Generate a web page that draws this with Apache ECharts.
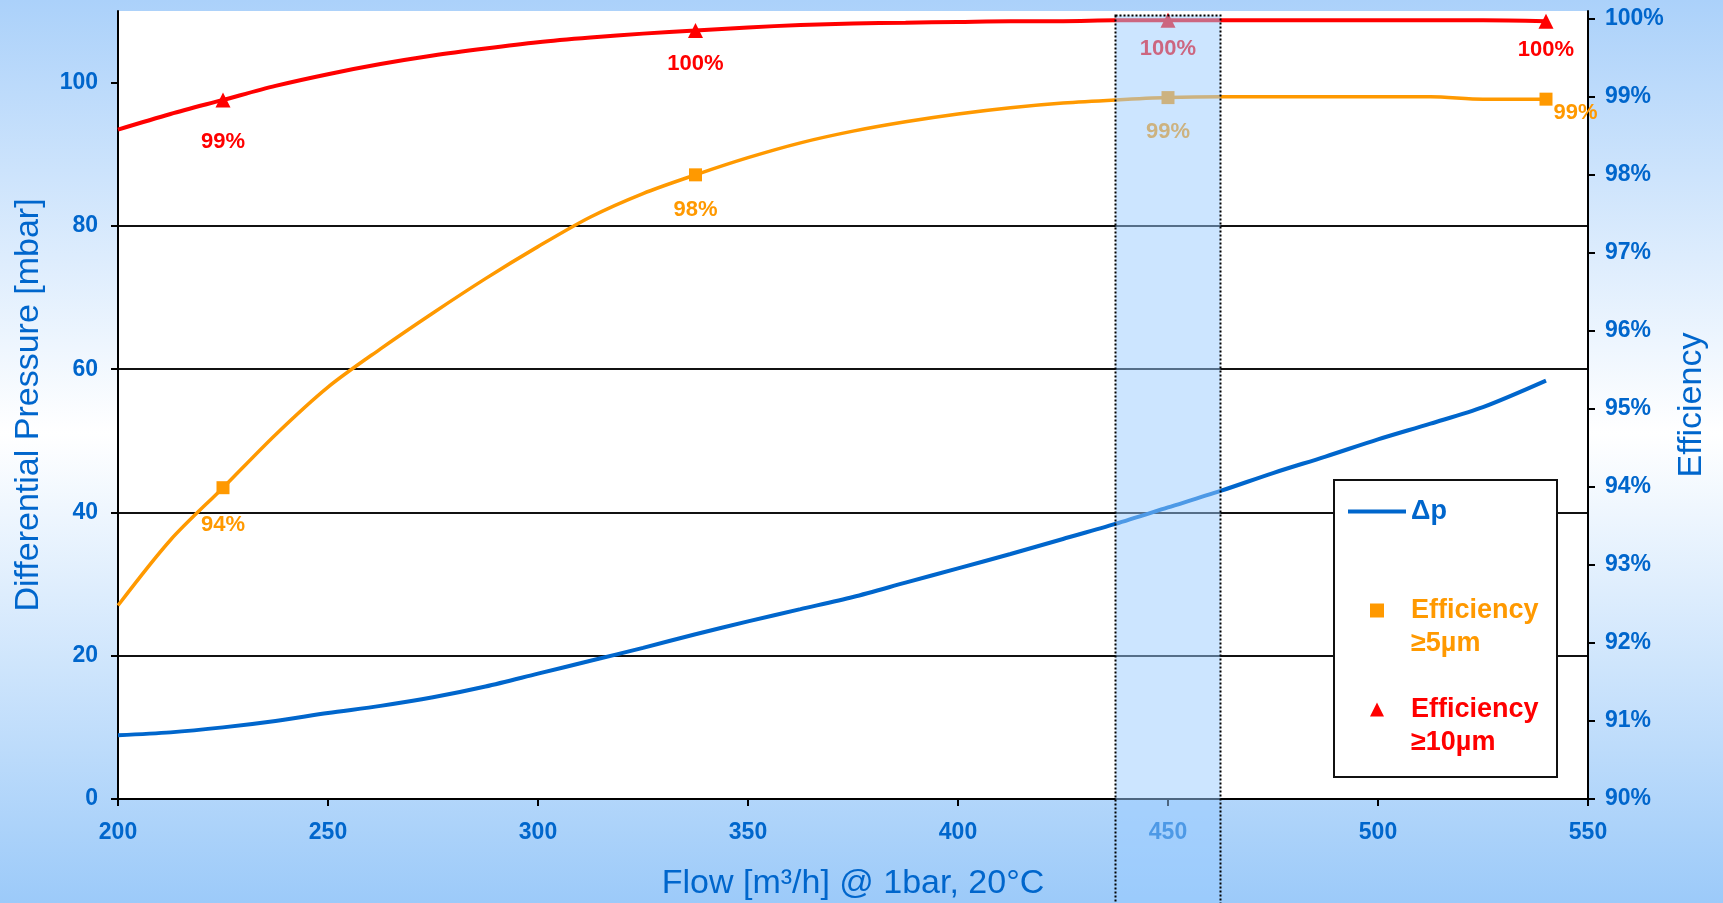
<!DOCTYPE html>
<html><head><meta charset="utf-8">
<script src="https://cdn.jsdelivr.net/npm/echarts@6/dist/echarts.min.js"></script>
<style>html,body{margin:0;padding:0;background:#fff;}#c{width:1723px;height:903px;}</style>
</head><body><div id="c"></div>
<script>
// ---- data ----
const flows = [200, 212.5, 225, 237.5, 250, 262.5, 275, 287.5, 300, 312.5, 325, 337.5, 350, 362.5, 375, 387.5, 400, 412.5, 425, 437.5, 450, 462.5, 475, 487.5, 500, 512.5, 525, 540];
const deltaP = [8.9, 9.3, 10.0, 10.9, 12.0, 13.0, 14.2, 15.7, 17.5, 19.3, 21.1, 23.0, 24.8, 26.5, 28.2, 30.2, 32.2, 34.2, 36.3, 38.4, 40.7, 43.0, 45.5, 47.8, 50.2, 52.4, 54.7, 58.4];
const eff5 = [92.48, 93.32, 93.99, 94.67, 95.28, 95.77, 96.23, 96.67, 97.08, 97.46, 97.76, 98.00, 98.22, 98.41, 98.56, 98.68, 98.78, 98.86, 98.92, 98.96, 98.99, 99.00, 99.00, 99.00, 99.00, 99.00, 98.97, 98.97];
const eff10 = [98.58, 98.78, 98.96, 99.14, 99.29, 99.42, 99.53, 99.62, 99.70, 99.76, 99.81, 99.85, 99.89, 99.92, 99.94, 99.95, 99.96, 99.97, 99.97, 99.98, 99.98, 99.98, 99.98, 99.98, 99.98, 99.98, 99.98, 99.97];
const markerFlows = [225, 337.5, 450, 540];
const flowTicks = [200, 250, 300, 350, 400, 450, 500, 550];
const pressureTicks = [0, 20, 40, 60, 80, 100];
const efficiencyTicks = [90, 91, 92, 93, 94, 95, 96, 97, 98, 99, 100];
const bandFlows = [437.5, 462.5];
const seriesNames = ['Δp', 'Efficiency ≥5µm', 'Efficiency ≥10µm'];
const legendTexts = [' \nΔp\n ', ' \nEfficiency\n≥5µm', ' \nEfficiency\n≥10µm'];

// ---- styles ----
const BLUE = '#0066cc', ORANGE = '#ff9900', RED = '#ff0000';
const NUM_FONT = '"Liberation Sans",Arial,sans-serif';
const TXT_FONT = '"Liberation Sans",Arial,sans-serif';
const labelDist5 = {225: 20, 337.5: 18, 450: 17};
const labelDist10 = {225: 23, 337.5: 15, 450: 10, 540: 10};

function pct(p) { return Math.round(p.value[1]) + '%'; }

function buildSeriesData(values, color, dists, size) {
  return flows.map((f, i) => {
    if (markerFlows.indexOf(f) < 0) return {value: [f, values[i]], symbolSize: 0};
    let label;
    if (dists[f] !== undefined) {
      label = {show: true, position: 'bottom', distance: dists[f], formatter: pct, color: color,
               fontFamily: NUM_FONT, fontWeight: 'bold', fontSize: 22};
    } else {
      label = {show: true, position: 'right', distance: 1, offset: [0, 14], formatter: pct, color: color,
               fontFamily: NUM_FONT, fontWeight: 'bold', fontSize: 22};
    }
    return {value: [f, values[i]], symbolSize: size, label: label};
  });
}

const chart = echarts.init(document.getElementById('c'), null, {renderer: 'canvas'});
const axisLineStyle = {color: '#000', width: 2};

const option = {
  animation: false,
  backgroundColor: {type: 'linear', x: 0, y: 0, x2: 0, y2: 1, colorStops: [
    {offset: 0, color: '#abd1fa'}, {offset: 0.48, color: '#ffffff'}, {offset: 1, color: '#9ccaf9'}]},
  grid: {left: 118, right: 135, top: 11, bottom: 104, show: true, backgroundColor: '#ffffff', borderWidth: 0,
         containLabel: false, outerBoundsMode: 'none'},
  xAxis: {
    type: 'value', min: 200, max: 550, interval: 50,
    name: 'Flow [m³/h] @ 1bar, 20°C', nameLocation: 'middle', nameGap: 68,
    nameTextStyle: {color: BLUE, fontFamily: TXT_FONT, fontSize: 34},
    axisLine: {show: true, onZero: false, lineStyle: axisLineStyle},
    axisTick: {show: true, length: 7, lineStyle: axisLineStyle},
    axisLabel: {color: BLUE, fontFamily: NUM_FONT, fontWeight: 'bold', fontSize: 23, margin: 22,
                customValues: flowTicks},
    splitLine: {show: false}
  },
  yAxis: [{
    type: 'value', min: 0, max: 110, interval: 20, position: 'left',
    name: 'Differential Pressure [mbar]', nameLocation: 'middle', nameGap: 72, nameRotate: 90,
    nameTextStyle: {color: BLUE, fontFamily: TXT_FONT, fontSize: 34},
    axisLine: {show: true, lineStyle: axisLineStyle},
    axisTick: {show: true, length: 7, lineStyle: axisLineStyle, customValues: pressureTicks},
    axisLabel: {color: BLUE, fontFamily: NUM_FONT, fontWeight: 'bold', fontSize: 23, margin: 20,
                customValues: pressureTicks},
    splitLine: {show: true, showMinLine: false, showMaxLine: false, lineStyle: {color: '#111', width: 2}}
  }, {
    type: 'value', min: 90, max: 100.1, interval: 1, position: 'right',
    name: 'Efficiency', nameLocation: 'middle', nameGap: 86, nameRotate: 90,
    nameTextStyle: {color: BLUE, fontFamily: TXT_FONT, fontSize: 34},
    axisLine: {show: true, lineStyle: axisLineStyle},
    axisTick: {show: true, length: 7, lineStyle: axisLineStyle, customValues: efficiencyTicks},
    axisLabel: {color: BLUE, fontFamily: NUM_FONT, fontWeight: 'bold', fontSize: 23, margin: 17,
                customValues: efficiencyTicks, formatter: v => Math.round(v) + '%'},
    splitLine: {show: false}
  }],
  legend: {
    orient: 'vertical', left: 1348, top: 462, padding: 0, itemGap: 0,
    itemWidth: 58, itemHeight: 14, symbolKeepAspect: true,
    itemStyle: {borderWidth: 0},
    formatter: name => legendTexts[seriesNames.indexOf(name)],
    textStyle: {fontFamily: TXT_FONT, fontWeight: 'bold', fontSize: 27, lineHeight: 33},
    data: [
      {name: seriesNames[0], icon: 'path://M0,0H58V4H0Z', itemStyle: {color: BLUE}, textStyle: {color: BLUE}},
      {name: seriesNames[1], icon: 'path://M0,0H10V10H0Z', itemStyle: {color: ORANGE}, textStyle: {color: ORANGE}},
      {name: seriesNames[2], icon: 'path://M5,0L10,10L0,10Z', itemStyle: {color: RED}, textStyle: {color: RED}}
    ]
  },
  series: [{
    name: seriesNames[0], type: 'line', yAxisIndex: 0, symbol: 'none', smooth: 0.3,
    color: BLUE, lineStyle: {color: BLUE, width: 4},
    data: flows.map((f, i) => [f, deltaP[i]])
  }, {
    name: seriesNames[1], type: 'line', yAxisIndex: 1, symbol: 'rect', showAllSymbol: true, smooth: 0.3,
    color: ORANGE, lineStyle: {color: ORANGE, width: 3.5}, itemStyle: {color: ORANGE},
    data: buildSeriesData(eff5, ORANGE, labelDist5, 13)
  }, {
    name: seriesNames[2], type: 'line', yAxisIndex: 1, symbol: 'triangle', showAllSymbol: true, smooth: 0.3,
    color: RED, lineStyle: {color: RED, width: 4}, itemStyle: {color: RED},
    data: buildSeriesData(eff10, RED, labelDist10, 15)
  }]
};
chart.setOption(option);

// overlay: highlighted flow band and legend frame
const bx0 = chart.convertToPixel({xAxisIndex: 0}, bandFlows[0]);
const bx1 = chart.convertToPixel({xAxisIndex: 0}, bandFlows[1]);
chart.setOption({
  graphic: [
    {type: 'rect', z: 3, shape: {x: 1334, y: 480, width: 223, height: 297},
     style: {fill: '#ffffff', stroke: '#111', lineWidth: 2}},
    {type: 'rect', z: 10, shape: {x: bx0, y: 15.5, width: bx1 - bx0, height: 900},
     style: {fill: 'rgba(153,204,255,0.5)', stroke: '#000', lineWidth: 2, lineDash: [2, 2]}}
  ]
});
</script></body></html>
